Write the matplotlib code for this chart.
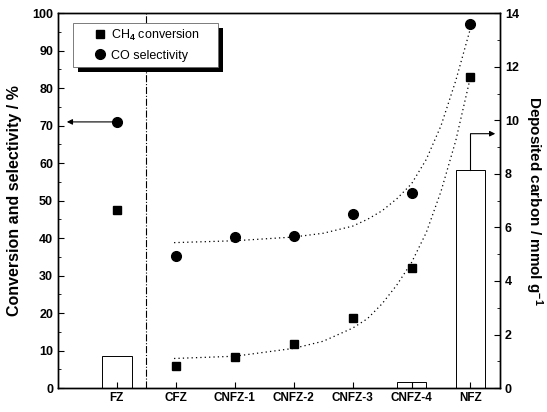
import numpy as np
import matplotlib
matplotlib.use("Agg")
import matplotlib.pyplot as plt
from matplotlib.patches import Rectangle

plt.rcParams['font.family'] = ['Liberation Sans', 'DejaVu Sans']
plt.rcParams['font.weight'] = 'bold'
plt.rcParams['mathtext.fontset'] = 'custom'
plt.rcParams['mathtext.rm'] = 'Liberation Sans'
plt.rcParams['mathtext.bf'] = 'Liberation Sans:bold'
plt.rcParams['mathtext.it'] = 'Liberation Sans:italic'

# samples and values
samples = ['FZ', 'CFZ', 'CNFZ-1', 'CNFZ-2', 'CNFZ-3', 'CNFZ-4', 'NFZ']
xpos = [1, 2, 3, 4, 5, 6, 7]
ch4_conv = [47.5, 6.0, 8.4, 11.7, 18.8, 32.1, 83.0]   # %
co_sel = [71.0, 35.2, 40.2, 40.5, 46.4, 52.1, 97.0]   # %
carbon = [1.19, 0, 0, 0, 0, 0.24, 8.14]               # mmol/g

# dotted trend lines
fit_x = [1.97, 3.0, 4.0, 4.5, 5.0, 5.25, 5.5, 5.75, 6.0, 6.25, 6.5, 6.75, 7.0]
fit_co_y = [38.8, 39.3, 40.3, 41.3, 43.2, 45.0, 47.3, 50.5, 54.5, 61.0, 70.0, 82.0, 96.0]
fit_ch4_y = [7.9, 8.5, 10.6, 12.5, 16.0, 18.5, 22.5, 27.5, 33.5, 41.5, 52.5, 66.0, 83.0]

fig = plt.figure(figsize=(5.47, 4.12), dpi=100)
ax = fig.add_axes([0.106, 0.058, 0.808, 0.910])
ax2 = ax.twinx()

# left axis: conversion / selectivity
ax.plot(fit_x, fit_co_y, color='k', lw=0.9, ls=(0, (1, 2.5)))
ax.plot(fit_x, fit_ch4_y, color='k', lw=0.9, ls=(0, (1, 2.5)))
ax.plot(xpos, ch4_conv, 's', color='k', ms=5.5, label='CH$_4$ conversion')
ax.plot(xpos, co_sel, 'o', color='k', ms=7, label='CO selectivity')
ax.axvline(1.5, color='k', lw=0.8, ls='-.')

ax.annotate('', xy=(0.15, 71), xytext=(0.93, 71),
            arrowprops=dict(arrowstyle='-|>', color='k', lw=0.8,
                            mutation_scale=8, shrinkA=0, shrinkB=0))

ax.set_xlim(0, 7.5)
ax.set_ylim(0, 100)
ax.set_xticks(xpos, samples)
ax.set_yticks(np.arange(0, 101, 10))
ax.set_yticks(np.arange(0, 101, 5), minor=True)
ax.tick_params(axis='y', which='major', direction='in', length=4, labelsize=9)
ax.tick_params(axis='y', which='minor', direction='in', length=2)
ax.tick_params(axis='x', direction='in', length=4, labelsize=8.5, pad=3)
ax.set_ylabel('Conversion and selectivity / %', fontsize=11.5, fontweight='bold', labelpad=7)

# right axis: deposited carbon bars
ax2.bar(xpos, carbon, width=0.5, facecolor='none', edgecolor='k', lw=0.7)
ax2.plot([7, 7], [8.14, 9.5], color='k', lw=0.8)
ax2.annotate('', xy=(7.42, 9.5), xytext=(7, 9.5),
             arrowprops=dict(arrowstyle='-|>', color='k', lw=0.8,
                             mutation_scale=8, shrinkA=0, shrinkB=0))
ax2.set_ylim(0, 14)
ax2.set_yticks(np.arange(0, 15, 2))
ax2.set_yticks(np.arange(0, 15, 1), minor=True)
ax2.tick_params(axis='y', which='major', direction='in', length=4, labelsize=9)
ax2.tick_params(axis='y', which='minor', direction='in', length=2)
ax2.set_ylabel('Deposited carbon / mmol g$^{\\mathbf{-1}}$', fontsize=11,
               fontweight='bold', rotation=270, va='bottom', labelpad=3)

for a in (ax, ax2):
    for s in a.spines.values():
        s.set_linewidth(1.0)

# legend box with black drop shadow
ax.add_patch(Rectangle((0.045, 0.843), 0.328, 0.117, transform=ax.transAxes,
                       facecolor='k', edgecolor='none', zorder=5))
ax.add_patch(Rectangle((0.034, 0.856), 0.328, 0.117, transform=ax.transAxes,
                       facecolor='w', edgecolor='0.4', lw=0.6, zorder=6))
leg = ax.legend(loc='upper left', bbox_to_anchor=(0.072, 0.975), frameon=False,
                prop={'size': 9, 'weight': 'normal'}, handlelength=0.8,
                handletextpad=0.5, borderaxespad=0, labelspacing=0.55)
leg.set_zorder(7)

fig.savefig('out.png', dpi=100)
